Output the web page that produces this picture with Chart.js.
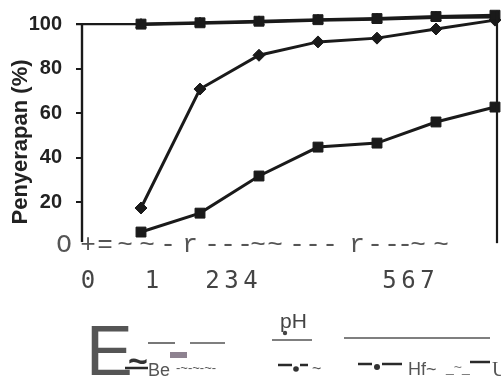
<!DOCTYPE html>
<html><head><meta charset="utf-8">
<script src="https://cdn.jsdelivr.net/npm/chart.js@4/dist/chart.umd.min.js"></script>
<style>html,body{margin:0;padding:0;background:#fff}#wrap{width:501px;height:384px}</style>
</head><body><div id="wrap"><canvas id="c" width="501" height="384"></canvas></div>
<script>
// ---- data ----
const categories = [1, 2, 3, 4, 5, 6, 7];            // pH
const seriesBe  = [100, 100.6, 101.3, 102, 102.5, 103.4, 104];
const seriesB   = [99.8, 100.4, 101, 101.7, 102.2, 103, 103.2];
const seriesHf  = [17.3, 70.8, 86, 92, 93.7, 97.8, 101.8];
const seriesU   = [6.5, 15, 31.7, 44.7, 46.5, 56, 62.7];
const yTicks    = [20, 40, 60, 80, 100];
const xTickGroups = ['0', '1', '234', '567'];
const axisNoise = 'O+=~~-r---~~---r---~~';
const yTitle = 'Penyerapan (%)';
const xTitle = 'pH';
const legendNames = ['Be', '~', 'Hf~', 'U'];

const pts = arr => categories.map((c, i) => ({x: c, y: arr[i]}));
const ink = '#1a1a1a';

const overlay = {
  id: 'overlay',
  afterDraw(chart) {
    const ctx = chart.ctx, xs = chart.scales.x, ys = chart.scales.y, ca = chart.chartArea;
    ctx.save();
    ctx.strokeStyle = ink; ctx.lineCap = 'butt';
    // left axis line
    const ax = xs.getPixelForValue(0);
    ctx.lineWidth = 2.4;
    ctx.beginPath(); ctx.moveTo(ax, ys.getPixelForValue(100)); ctx.lineTo(ax, ys.getPixelForValue(2)); ctx.stroke();
    // 100 line to first point
    ctx.beginPath(); ctx.moveTo(ax - 6, ys.getPixelForValue(100)); ctx.lineTo(xs.getPixelForValue(1), ys.getPixelForValue(100)); ctx.stroke();
    // right frame line
    ctx.lineWidth = 2.2;
    ctx.beginPath(); ctx.moveTo(ca.right, ys.getPixelForValue(106)); ctx.lineTo(ca.right, ys.getPixelForValue(1.5)); ctx.stroke();

    // y title
    ctx.save();
    ctx.translate(21, 142);
    ctx.rotate(-Math.PI / 2);
    ctx.fillStyle = '#222';
    ctx.font = 'bold 22px "Liberation Sans"';
    ctx.textAlign = 'center'; ctx.textBaseline = 'middle';
    ctx.fillText(yTitle, 0, 0);
    ctx.restore();

    // noisy axis text (one glyph per slot)
    ctx.fillStyle = '#555';
    ctx.font = '26px "Liberation Mono"';
    ctx.textBaseline = 'alphabetic'; ctx.textAlign = 'center';
    const slots = [64, 88, 105, 125, 147, 168, 190, 212, 228, 245, 258, 275, 297, 313, 330, 357, 375, 392, 405, 418, 441];
    for (let k = 0; k < axisNoise.length && k < slots.length; k++) ctx.fillText(axisNoise[k], slots[k], 252);

    // x tick groups
    ctx.fillStyle = '#444';
    ctx.font = '24px "DejaVu Sans Mono"';
    const starts = [88, 152, 212.5, 389.5];
    xTickGroups.forEach((g, gi) => {
      for (let k = 0; k < g.length; k++) ctx.fillText(g[k], starts[gi] + k * 19, 288);
    });

    // x title
    ctx.fillStyle = '#444';
    ctx.font = '21px "Liberation Sans"';
    ctx.textAlign = 'left';
    ctx.fillText(xTitle, 280, 328);
    ctx.beginPath(); ctx.arc(285, 333, 2.2, 0, Math.PI * 2); ctx.fill();

    // faint lines
    ctx.strokeStyle = '#555'; ctx.lineWidth = 1.6;
    [[148, 175, 343], [190, 225, 343], [272, 312, 340], [344, 490, 338]].forEach(s => {
      ctx.beginPath(); ctx.moveTo(s[0], s[2]); ctx.lineTo(s[1], s[2]); ctx.stroke();
    });

    // legend garble
    ctx.fillStyle = '#555';
    ctx.font = '70px "Liberation Sans"';
    ctx.fillText('E', 86, 375);
    ctx.fillStyle = '#333';
    ctx.font = 'bold 34px "Liberation Sans"';
    ctx.fillText('~', 128, 372);
    ctx.fillStyle = '#8e8290';
    ctx.fillRect(170, 352, 17, 6);
    ctx.strokeStyle = '#2a2a2a'; ctx.lineWidth = 2.5;
    [[125, 148, 368], [278, 292, 365], [300, 308, 365], [358, 372, 364], [382, 402, 364], [470, 490, 362]].forEach(s => {
      ctx.beginPath(); ctx.moveTo(s[0], s[2]); ctx.lineTo(s[1], s[2]); ctx.stroke();
    });
    ctx.fillStyle = '#333';
    ctx.beginPath(); ctx.arc(296, 369, 2.8, 0, Math.PI * 2); ctx.fill();
    ctx.beginPath(); ctx.arc(377, 367, 3, 0, Math.PI * 2); ctx.fill();
    ctx.fillStyle = '#555';
    ctx.font = '18px "Liberation Sans"';
    ctx.fillText(legendNames[0], 148, 376);
    ctx.font = '13px "Liberation Sans"';
    ctx.fillText('-~-~-~-', 176, 372);
    ctx.font = '16px "Liberation Sans"';
    ctx.fillText(legendNames[1], 312, 374);
    ctx.font = '18px "Liberation Sans"';
    ctx.fillText(legendNames[2], 408, 375);
    ctx.font = '14px "Liberation Sans"';
    ctx.fillStyle = '#777';
    ctx.fillText('_~_', 446, 372);
    ctx.fillStyle = '#555';
    ctx.font = '20px "Liberation Serif"';
    ctx.fillText(legendNames[3], 492, 376);
    ctx.restore();
  }
};

const common = {borderColor: ink, backgroundColor: ink, borderWidth: 3, pointRadius: 7, pointBorderWidth: 1, tension: 0, clip: false};

new Chart(document.getElementById('c'), {
  type: 'line',
  data: {
    datasets: [
      Object.assign({label: legendNames[0], data: pts(seriesBe), pointStyle: 'rect'}, common),
      Object.assign({label: legendNames[1], data: pts(seriesB), pointStyle: 'triangle'}, common, {pointRadius: 6}),
      Object.assign({label: legendNames[2], data: pts(seriesHf), pointStyle: 'rectRot'}, common, {pointRadius: 6}),
      Object.assign({label: legendNames[3], data: pts(seriesU), pointStyle: 'rect'}, common)
    ]
  },
  options: {
    responsive: false, animation: false,
    layout: {autoPadding: false, padding: {left: 0, right: 4, top: 13, bottom: 137.5}},
    plugins: {legend: {display: false}, tooltip: {enabled: false}},
    scales: {
      x: {type: 'linear', min: 0, max: 7.034, display: false},
      y: {
        min: 0, max: 105,
        afterBuildTicks: s => { s.ticks = yTicks.map(v => ({value: v})); },
        afterFit: s => { s.width = 82; s.paddingTop = 0; s.paddingBottom = 0; },
        border: {display: false},
        grid: {drawOnChartArea: false, drawTicks: true, tickLength: 6, color: ink, lineWidth: 2},
        ticks: {padding: 14, color: '#222', font: {family: 'Liberation Sans', size: 20, weight: 'bold'}},
        title: {display: false}
      }
    }
  },
  plugins: [overlay]
});
</script></body></html>
